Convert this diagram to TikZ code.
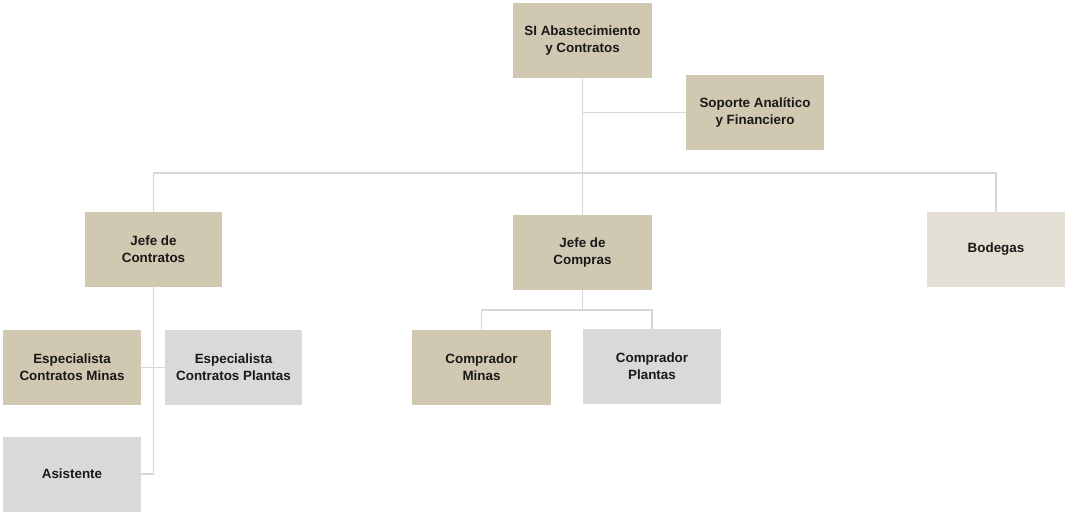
\documentclass[tikz,border=0pt]{standalone}
\usepackage{fontspec}
\setmainfont{Liberation Sans}
\definecolor{tan}{RGB}{208,200,176}
\definecolor{paletan}{RGB}{228,223,212}
\definecolor{boxgray}{RGB}{217,217,217}
\definecolor{linegray}{RGB}{215,215,215}
\tikzset{
    unit/.style={minimum width=138pt, minimum height=75pt, inner sep=0pt,
        align=center, font=\bfseries\fontsize{13.4}{17}\selectfont, text=black!90},
    core/.style={unit, fill=tan},
    aux/.style={unit, fill=boxgray},
    store/.style={unit, fill=paletan},
    link/.style={draw=linegray, line width=1.3pt}
}
\begin{document}
\begin{tikzpicture}[x=1pt, y=-1pt]
    \useasboundingbox (0,0) rectangle (1065,512);

    % Nodes
    \node[core, minimum width=139pt] (si) at (582.5,40.5) {SI Abastecimiento\\y Contratos};
    \node[core] (soporte) at (755,112.5) {Soporte Analítico\\y Financiero};

    \node[core, minimum width=137pt] (jcontratos) at (153.5,249.5) {Jefe de\\Contratos};
    \node[core, minimum width=139pt] (jcompras) at (582.5,252.5) {Jefe de\\Compras};
    \node[store] (bodegas) at (996,249.5) {Bodegas};

    \node[core] (esminas) at (72,367.5) {Especialista\\Contratos Minas};
    \node[aux, minimum width=137pt] (esplantas) at (233.5,367.5) {Especialista\\Contratos Plantas};
    \node[aux] (asistente) at (72,474) {Asistente};

    \node[core, minimum width=139pt] (cminas) at (481.5,367.5) {Comprador\\Minas};
    \node[aux] (cplantas) at (652,366.5) {Comprador\\Plantas};

    % Junctions
    \coordinate (bus) at (582.5,173);
    \coordinate (cbus) at (582.5,310);

    % Edges
    \draw[link] (si.south) -- (jcompras.north);
    \draw[link] (soporte.west) -- (soporte.west -| si.south);
    \draw[link] (jcontratos.north) |- (bus) -| (bodegas.north);

    \draw[link] (jcontratos.south) |- (asistente.east);
    \draw[link] (esminas.east) -- (esplantas.west);

    \draw[link] (jcompras.south) -- (cbus);
    \draw[link] (cminas.north) |- (cbus) -| (cplantas.north);
\end{tikzpicture}
\end{document}
